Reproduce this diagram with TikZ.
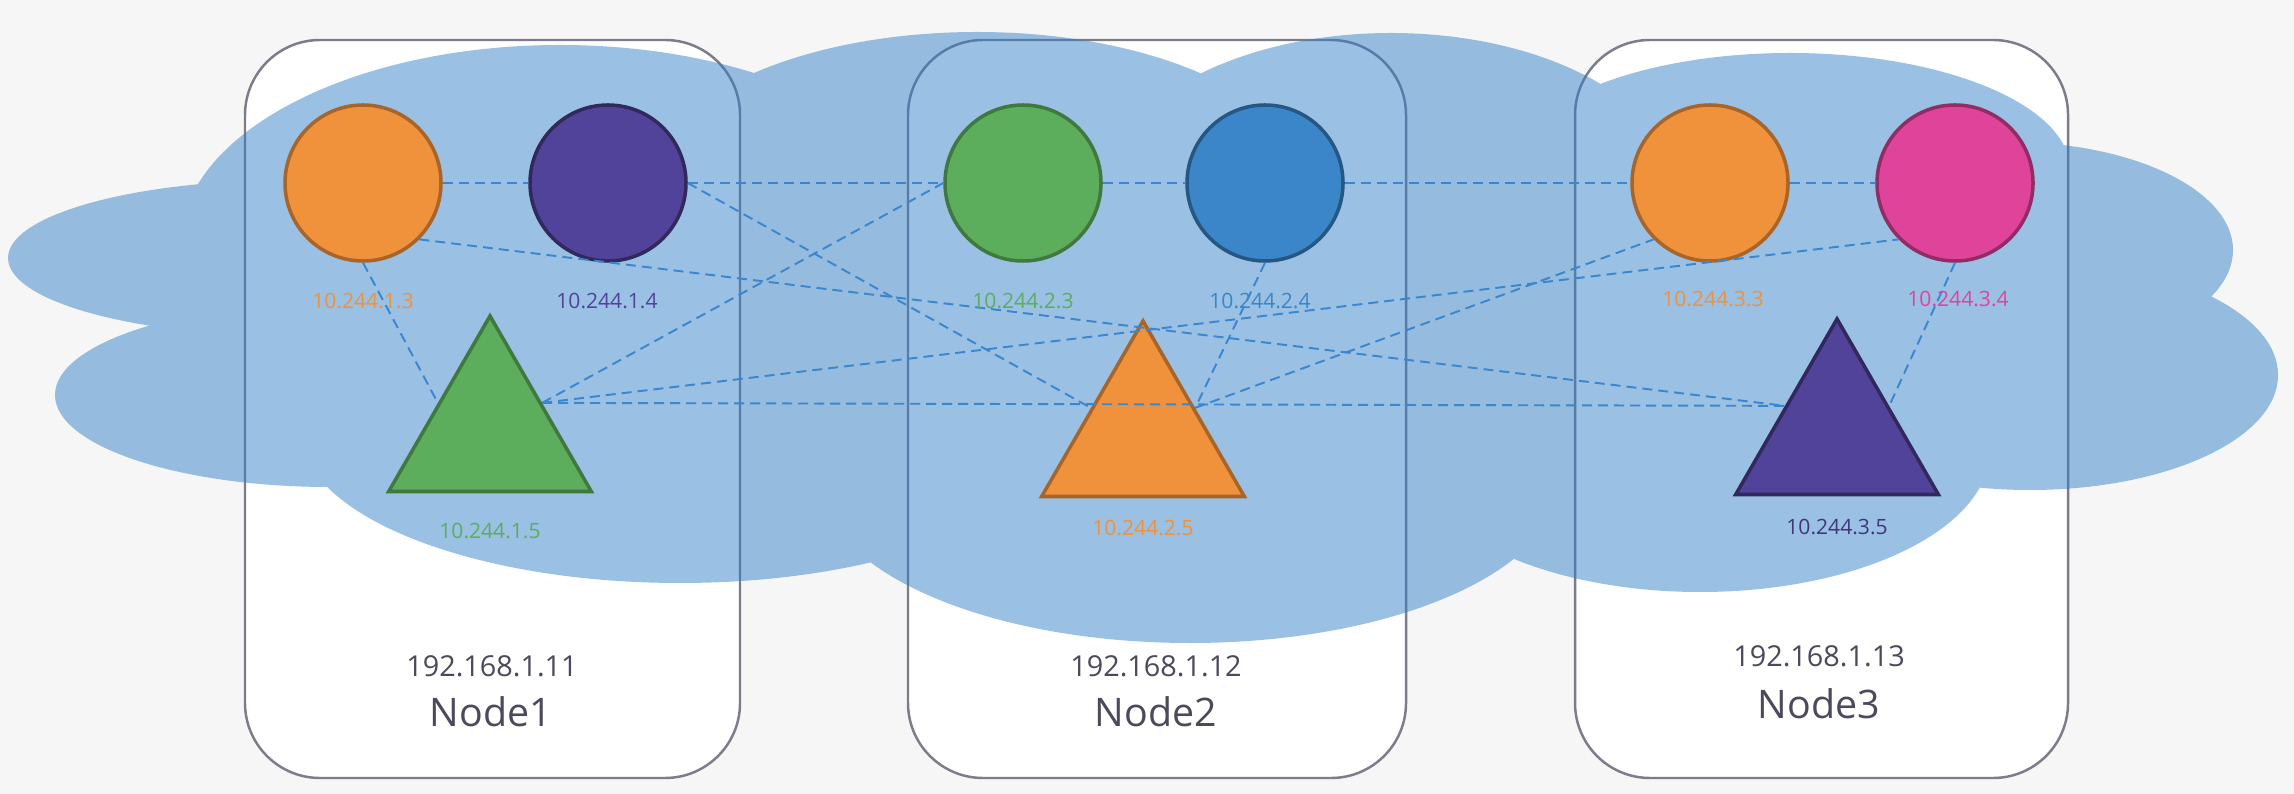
\documentclass[tikz,border=0pt]{standalone}
\usepackage{fontspec}
\setmainfont{Open Sans}
\usetikzlibrary{shapes.geometric}
\definecolor{bgpaper}{HTML}{F6F6F6}
\definecolor{boxgray}{HTML}{7C7C8A}
\definecolor{cloudblue}{HTML}{2D7DC8}
\definecolor{linkblue}{HTML}{3A86CF}
\definecolor{hosttext}{HTML}{4A4A5C}
\definecolor{podorange}{HTML}{F0913C}
\definecolor{podpurple}{HTML}{52439A}
\definecolor{podgreen}{HTML}{5CAD5C}
\definecolor{podblue}{HTML}{3A86C8}
\definecolor{podpink}{HTML}{E0449A}
\begin{document}
\begin{tikzpicture}[x=0.1mm,y=-0.1mm,
    hostbox/.style={draw=boxgray,line width=0.7pt,fill=white,rounded corners=7.5mm},
    pod/.style={circle,minimum size=15.6mm,inner sep=0pt,line width=1pt},
    svc/.style={regular polygon,regular polygon sides=3,minimum size=23.4mm,inner sep=0pt,line width=1pt},
    link/.style={draw=linkblue,line width=0.55pt,dash pattern=on 1mm off 0.6mm},
    ip/.style={font=\fontsize{6}{7}\selectfont},
    hostip/.style={text=hosttext,font=\fontsize{8.2}{10}\selectfont},
    hostname/.style={text=hosttext,font=\fontsize{11.2}{13}\selectfont}]
  \useasboundingbox (0,0) rectangle (2294,794);
  \fill[bgpaper] (0,0) rectangle (2294,794);

  % hosts
  \draw[hostbox] (245,40) rectangle (740,778);
  \draw[hostbox] (908,40) rectangle (1406,778);
  \draw[hostbox] (1575,40) rectangle (2068,778);
  \node[hostip] (ip1) at (492,666) {192.168.1.11};
  \node[hostname] (host1) at (491,712) {Node1};
  \node[hostip] (ip2) at (1156,666) {192.168.1.12};
  \node[hostname] (host2) at (1156,712) {Node2};
  \node[hostip] (ip3) at (1819,656) {192.168.1.13};
  \node[hostname] (host3) at (1819,704) {Node3};

  % overlay network
  \fill[cloudblue,fill opacity=.48]
    (290,258) ellipse [x radius=282, y radius=78]
    (330,395) ellipse [x radius=275, y radius=92]
    (560,245) ellipse [x radius=380, y radius=200]
    (977,188) ellipse [x radius=330, y radius=156]
    (1391,198) ellipse [x radius=290, y radius=165]
    (1790,170) ellipse [x radius=280, y radius=117]
    (2010,250) ellipse [x radius=223, y radius=108]
    (2030,375) ellipse [x radius=248, y radius=115]
    (1700,450) ellipse [x radius=290, y radius=142]
    (1190,480) ellipse [x radius=370, y radius=163]
    (680,430) ellipse [x radius=380, y radius=153]
    (1150,330) ellipse [x radius=1000, y radius=230];

  % pods
  \node[pod,fill=podorange,draw=podorange!70!black] (A1) at (363,183) {};
  \node[pod,fill=podpurple,draw=podpurple!60!black] (B1) at (608,183) {};
  \node[svc,fill=podgreen,draw=podgreen!70!black] (C1) at (490,433) {};
  \node[pod,fill=podgreen,draw=podgreen!70!black] (A2) at (1023,183) {};
  \node[pod,fill=podblue,draw=podblue!65!black] (B2) at (1265,183) {};
  \node[svc,fill=podorange,draw=podorange!70!black] (C2) at (1143,438) {};
  \node[pod,fill=podorange,draw=podorange!70!black] (A3) at (1710,183) {};
  \node[pod,fill=podpink,draw=podpink!65!black] (B3) at (1955,183) {};
  \node[svc,fill=podpurple,draw=podpurple!60!black] (C3) at (1837,436) {};

  % links
  \draw[link] (A1) -- (B1);
  \draw[link] (B1) -- (A2);
  \draw[link] (A2) -- (B2);
  \draw[link] (B2) -- (A3);
  \draw[link] (A3) -- (B3);
  \draw[link] (A1.south) -- (C1.side 1);
  \draw[link] (A1.south east) -- (C3.side 1);
  \draw[link] (B1.east) -- (C2.side 1);
  \draw[link] (C1.side 3) -- (A2.west);
  \draw[link] (C1.side 3) -- (B3.south west);
  \draw[link] (C1.side 3) -- (C3.side 1);
  \draw[link] (B2.south) -- (C2.side 3);
  \draw[link] (C2.side 3) -- (A3.south west);
  \draw[link] (B3.south) -- (C3.side 3);

  % addresses
  \node[ip,text=podorange] (a13) at (363,301) {10.244.1.3};
  \node[ip,text=podpurple] (a14) at (607,301) {10.244.1.4};
  \node[ip,text=podgreen] (a15) at (490,531) {10.244.1.5};
  \node[ip,text=podgreen] (a23) at (1023,301) {10.244.2.3};
  \node[ip,text=podblue] (a24) at (1260,301) {10.244.2.4};
  \node[ip,text=podorange] (a25) at (1143,528) {10.244.2.5};
  \node[ip,text=podorange] (a33) at (1713,299) {10.244.3.3};
  \node[ip,text=podpink] (a34) at (1958,299) {10.244.3.4};
  \node[ip,text=podpurple!80!black] (a35) at (1837,527) {10.244.3.5};
\end{tikzpicture}
\end{document}
